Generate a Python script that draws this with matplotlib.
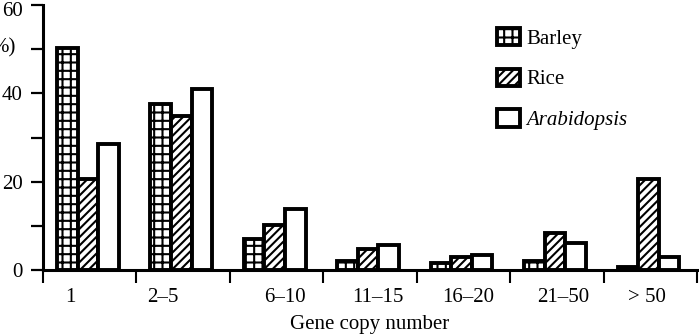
import numpy as np
import matplotlib
matplotlib.use("Agg")
import matplotlib.pyplot as plt
import matplotlib.transforms as mtransforms

# values (% of genes)
categories = ["1", "2\u20135", "6\u201310", "11\u201315", "16\u201320", "21\u201350", "> 50"]
barley = [50.2, 37.6, 7.1, 2.0, 1.6, 2.0, 0.7]
rice = [20.6, 34.8, 10.3, 4.8, 3.0, 8.4, 20.6]
arabidopsis = [28.6, 41.0, 13.9, 5.6, 3.3, 6.1, 3.0]

plt.rcParams['font.family'] = ['Liberation Serif', 'DejaVu Serif']
plt.rcParams['font.size'] = 15
plt.rcParams['hatch.linewidth'] = 1.5

fig = plt.figure(figsize=(6.99, 3.36), dpi=100)
ax = fig.add_axes([43 / 699, 1 - 270 / 336, 654 / 699, 265 / 336])

x = np.arange(len(categories))
w = 0.22
mid = x + 0.48
series = [(barley, '++', 'Barley'), (rice, '////', 'Rice'), (arabidopsis, '', 'Arabidopsis')]
for k, (vals, hatch, name) in enumerate(series):
    ax.bar(mid + (k - 1) * w, vals, width=w, facecolor='white', edgecolor='black',
           hatch=hatch, linewidth=2.8, label=name, zorder=2)

ax.set_xlim(0, len(categories))
ax.set_ylim(0, 60)

# y axis
ax.set_yticks([0, 20, 40, 60])
ax.set_yticks([10, 30, 50], minor=True)
ax.tick_params(axis='y', which='both', direction='out', length=8.6, width=1.6, pad=6)
# the top label sits a little lower in the original so it is not clipped
top_lab = ax.yaxis.get_major_ticks()[-1].label1
top_lab.set_transform(top_lab.get_transform() +
                      mtransforms.ScaledTranslation(0, -3 / 72, fig.dpi_scale_trans))

# x axis: group separators as minor ticks, labels placed by hand like the original
label_shift = [-0.21, -0.22, 0.09, 0.085, 0.05, 0.07, -0.035]
ax.set_xticks(x + 0.5 + np.array(label_shift))
ax.set_xticklabels(categories)
ax.set_xticks(np.arange(len(categories) + 1), minor=True)
ax.tick_params(axis='x', which='major', length=0, pad=13)
ax.tick_params(axis='x', which='minor', direction='out', length=9.5, width=1.5)

for s in ['top', 'right']:
    ax.spines[s].set_visible(False)
ax.spines['left'].set_linewidth(2.2)
ax.spines['bottom'].set_linewidth(2.2)
ax.spines['bottom'].set_zorder(3)

ax.set_xlabel('Gene copy number', labelpad=6)
fig.text(16 / 699, 1 - 48 / 336, '%)', ha='right', va='center')

leg = ax.legend(loc='upper left', bbox_to_anchor=(497 / 699, 1 - 28 / 336),
                bbox_transform=fig.transFigure, frameon=False, borderpad=0,
                borderaxespad=0, handlelength=1.1, handleheight=0.9,
                handletextpad=0.3, labelspacing=0.95)
leg.get_texts()[2].set_fontstyle('italic')

fig.savefig('out.png', dpi=100)
